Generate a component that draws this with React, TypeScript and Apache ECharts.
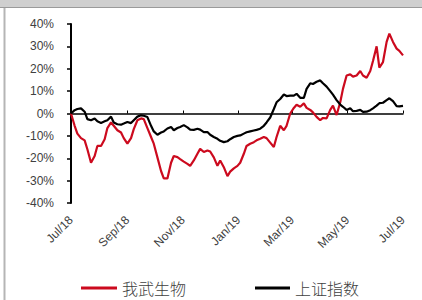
import React, { useEffect, useRef } from 'react';
import * as echarts from 'echarts';

const dates = [
  '2018-07-01','2018-07-05','2018-07-08','2018-07-12','2018-07-16','2018-07-19','2018-07-23','2018-07-27','2018-07-30',
  '2018-08-03','2018-08-07','2018-08-10','2018-08-14','2018-08-17','2018-08-21','2018-08-25','2018-08-28',
  '2018-09-01','2018-09-05','2018-09-08','2018-09-12','2018-09-16','2018-09-19','2018-09-23','2018-09-27','2018-09-30',
  '2018-10-04','2018-10-08','2018-10-11','2018-10-15','2018-10-19','2018-10-22','2018-10-26','2018-10-29',
  '2018-11-02','2018-11-06','2018-11-09','2018-11-13','2018-11-17','2018-11-20','2018-11-24','2018-11-28',
  '2018-12-01','2018-12-05','2018-12-09','2018-12-12','2018-12-16','2018-12-20','2018-12-23','2018-12-27','2018-12-31',
  '2019-01-03','2019-01-07','2019-01-10','2019-01-14','2019-01-18','2019-01-21','2019-01-25','2019-01-29',
  '2019-02-01','2019-02-05','2019-02-09','2019-02-12','2019-02-16','2019-02-20','2019-02-23','2019-02-27',
  '2019-03-03','2019-03-06','2019-03-10','2019-03-14','2019-03-17','2019-03-21','2019-03-24','2019-03-28',
  '2019-04-01','2019-04-04','2019-04-08','2019-04-12','2019-04-15','2019-04-19','2019-04-23','2019-04-26','2019-04-30',
  '2019-05-04','2019-05-07','2019-05-11','2019-05-15','2019-05-18','2019-05-22','2019-05-26','2019-05-29',
  '2019-06-02','2019-06-05','2019-06-09','2019-06-13','2019-06-16','2019-06-20','2019-06-24','2019-06-27','2019-07-01',
];

// 我武生物 (%)
const woowuValues = [
  0, -5.5, -9, -11, -12, -16, -22, -19, -14.5, -14.5,
  -11.5, -6.5, -4, -5.5, -7.5, -8.5, -11, -13.5, -11, -7,
  -3, -2.2, -2.5, -6.5, -10.5, -13.5, -19.6, -25.7, -29, -29,
  -22, -19, -19.5, -20.4, -21.5, -22.5, -23.4, -21, -18, -15.8,
  -17.2, -16.5, -17, -19.6, -23.4, -21, -24, -28, -26, -24.5,
  -23.4, -22, -18, -14.5, -13.5, -12.8, -12, -11.3, -10.5, -11,
  -13, -15, -10.5, -5.5, -7.5, -5.5, 0, 2.5, 3.9, 3,
  4.5, 2.5, 1.6, 0.5, -1.5, -3, -2, -2.2, 1.6, 3.5,
  -0.7, 5, 11, 17, 17.5, 16.5, 17, 19, 17, 16,
  19, 23.5, 30, 20.5, 23, 32, 35.7, 32, 29, 28,
  26,
];

// 上证指数 (%)
const shIndexValues = [
  0, 1.5, 2, 2.3, 0.8, -2.5, -3, -2.2, -3.5, -4.2,
  -3.5, -3, -1.4, -4, -4.8, -5, -4.5, -3.8, -4.3, -3,
  -1.4, -0.8, -1, -1.6, -5.5, -8, -9.5, -8.5, -8, -6.7,
  -6, -7.5, -6.5, -6, -5.2, -6.2, -7.2, -7.3, -6.8, -7.2,
  -8.3, -8.3, -9.5, -10.5, -11.3, -12.2, -12.8, -12.4, -11.5, -10.5,
  -10, -9.8, -9, -8.4, -8, -7.6, -7.3, -6.8, -5.5, -4,
  -1.8, 2, 5, 6.5, 8.5, 7.8, 8, 8, 8.8, 7,
  7, 11, 13.5, 13.2, 14.2, 14.8, 13.5, 12, 10, 8.4,
  6, 4, 3, 1.6, 2.3, 1, 1.2, 1.6, 0.7, 0.8,
  1.5, 2.3, 3.5, 4.6, 4.8, 6, 6.8, 5.5, 3.3, 3.2,
  3.4,
];

const tickDates = ['2018-07-01', '2018-09-01', '2018-11-01', '2019-01-01', '2019-03-01', '2019-05-01', '2019-07-01'];
const tickLabels = ['Jul/18', 'Sep/18', 'Nov/18', 'Jan/19', 'Mar/19', 'May/19', 'Jul/19'];
const seriesNames = ['我武生物', '上证指数'];

const DAY = 86400000;
function dayNum(s: string): number {
  const [y, m, d] = s.split('-').map(Number);
  return Math.round(Date.UTC(y, m - 1, d) / DAY);
}

export default function App() {
  const ref = useRef<HTMLDivElement>(null);

  useEffect(() => {
    document.body.style.margin = '0';
    if (!ref.current) return;
    const chart = echarts.init(ref.current, undefined, { renderer: 'svg' });
    const base = dayNum(tickDates[0]);
    const tickX = tickDates.map((d) => dayNum(d) - base);
    const minX = tickX[0];
    const maxX = tickX[tickX.length - 1];
    const labelFor = (v: number) => {
      let best = 0;
      for (let i = 1; i < tickX.length; i++) {
        if (Math.abs(tickX[i] - v) < Math.abs(tickX[best] - v)) best = i;
      }
      return tickLabels[best];
    };
    const red = '#cc0a1e';
    const legendText = { fontSize: 16, color: '#404040', fontFamily: 'Noto Sans CJK SC', fontWeight: 300 };
    chart.setOption({
      animation: false,
      grid: { left: 71, right: 19, top: 24, bottom: 97 },
      xAxis: [
        {
          type: 'value',
          min: minX,
          max: maxX,
          position: 'bottom',
          axisLine: { show: false, onZero: false },
          axisTick: { show: false },
          splitLine: { show: false },
          axisLabel: {
            customValues: tickX,
            formatter: (v: number) => labelFor(v),
            rotate: 45,
            margin: 15,
            fontSize: 12,
            color: '#404040',
            fontFamily: 'Liberation Sans',
          },
        },
        {
          type: 'value',
          min: minX,
          max: maxX,
          position: 'bottom',
          axisLine: { show: true, onZero: true, lineStyle: { color: '#000', width: 1.5 } },
          axisTick: { show: true, customValues: tickX, inside: true, length: 3, lineStyle: { color: '#000', width: 1 } },
          axisLabel: { show: false },
          splitLine: { show: false },
        },
      ],
      yAxis: {
        type: 'value',
        min: -40,
        max: 40,
        interval: 10,
        axisLine: { show: true, lineStyle: { color: '#000', width: 2 } },
        axisTick: { show: true, length: 4, lineStyle: { color: '#000', width: 1.5 } },
        splitLine: { show: false },
        axisLabel: {
          formatter: '{value}%',
          fontSize: 12,
          margin: 17,
          color: '#404040',
          fontFamily: 'Liberation Sans',
        },
      },
      legend: [
        {
          data: [seriesNames[0]],
          left: 76,
          top: 275,
          icon: 'rect',
          itemWidth: 36,
          itemHeight: 3,
          textStyle: legendText,
        },
        {
          data: [seriesNames[1]],
          left: 250,
          top: 275,
          icon: 'rect',
          itemWidth: 35,
          itemHeight: 3,
          textStyle: legendText,
        },
      ],
      graphic: [
        { type: 'rect', shape: { x: 0, y: 0, width: 422, height: 7 }, style: { fill: '#cfcfcf' }, silent: true },
        { type: 'line', shape: { x1: 0, y1: 7.5, x2: 422, y2: 7.5 }, style: { stroke: '#9a9a9a', lineWidth: 1 }, silent: true },
        { type: 'line', shape: { x1: 4.5, y1: 8, x2: 4.5, y2: 300 }, style: { stroke: '#b5b5b5', lineWidth: 2 }, silent: true },
      ],
      series: [
        {
          name: seriesNames[0],
          type: 'line',
          xAxisIndex: 0,
          data: dates.map((d, i) => [dayNum(d) - base, woowuValues[i]]),
          symbol: 'none',
          lineStyle: { color: red, width: 2.2 },
          itemStyle: { color: red },
        },
        {
          name: seriesNames[1],
          type: 'line',
          xAxisIndex: 0,
          data: dates.map((d, i) => [dayNum(d) - base, shIndexValues[i]]),
          symbol: 'none',
          lineStyle: { color: '#000', width: 2.2 },
          itemStyle: { color: '#000' },
        },
      ],
    });
    return () => chart.dispose();
  }, []);

  return <div ref={ref} style={{ width: 422, height: 300, background: '#fff' }} />;
}
